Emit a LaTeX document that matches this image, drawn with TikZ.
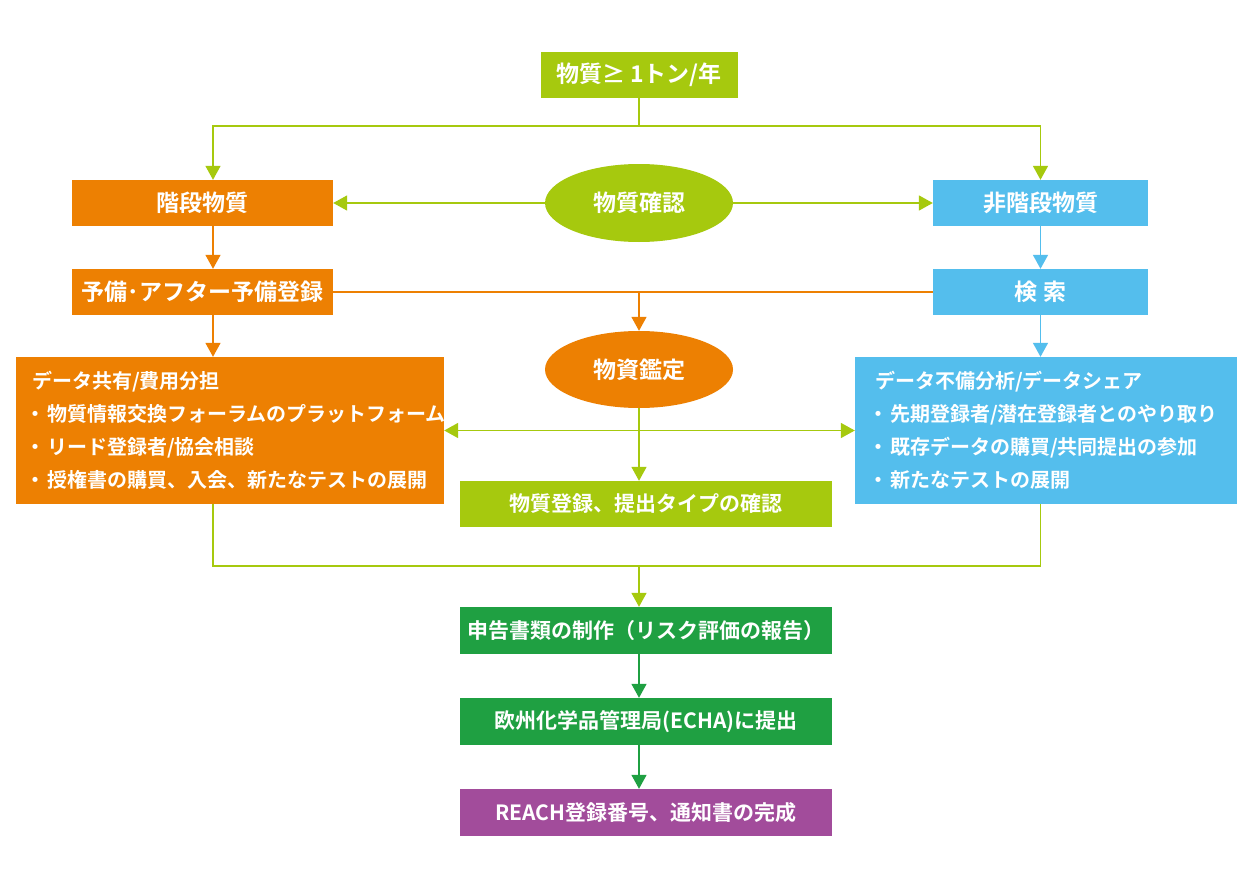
\documentclass[tikz,border=0pt]{standalone}
\usepackage{fontspec}
\newfontfamily\jp{Noto Sans CJK JP}[BoldFont={Noto Sans CJK JP Bold}]
\usetikzlibrary{arrows.meta,shapes.geometric}
\definecolor{lime}{RGB}{166,201,14}
\definecolor{orng}{RGB}{237,128,2}
\definecolor{sky}{RGB}{84,190,237}
\definecolor{dgreen}{RGB}{31,160,66}
\definecolor{purp}{RGB}{162,76,155}
\newcommand\bul{\makebox[15pt][l]{\hspace{-7pt}・}}
\begin{document}
\begin{tikzpicture}[x=1pt,y=-1pt,
  box/.style={rectangle, inner sep=0pt, text=white, font=\jp\bfseries\fontsize{23}{27}\selectfont},
  oval/.style={ellipse, inner sep=0pt, text=white, font=\jp\bfseries\fontsize{23}{27}\selectfont},
  listbox/.style={rectangle, inner ysep=0pt, text=white, align=left, font=\jp\bfseries\fontsize{20}{33}\selectfont},
  lowbox/.style={rectangle, inner sep=0pt, text=white, minimum width=372, minimum height=47, font=\jp\bfseries\fontsize{21}{25}\selectfont},
  conn/.style={line width=1.6pt, -{Triangle[width=15pt,length=14pt]}},
  plain/.style={line width=1.6pt},
  thin/.style={line width=1.3pt}
]
\useasboundingbox (0,0) rectangle (1255,888);
\fill[white] (0,0) rectangle (1255,888);
\coordinate (cL) at (213,0);
\coordinate (cR) at (1040.5,0);
\coordinate (cM) at (639,0);

\node[box, fill=lime, minimum width=197, minimum height=46] (top) at (639,75) {物質≥ 1トン/年};
\node[box, fill=orng, minimum width=261, minimum height=46] (kaidan) at (202.5,203) {階段物質};
\node[box, fill=sky, minimum width=215, minimum height=46] (hikaidan) at (1040.5,203) {非階段物質};
\node[oval, fill=lime, minimum width=188, minimum height=78] (kakunin) at (639,203) {物質確認};
\node[box, fill=orng, minimum width=261, minimum height=46] (yobi) at (202.5,292) {予備･アフター予備登録};
\node[box, fill=sky, minimum width=215, minimum height=46] (kensaku) at (1040.5,292) {検 索};
\node[oval, fill=orng, minimum width=188, minimum height=77] (kantei) at (639,369.5) {物資鑑定};
\node[listbox, fill=orng, minimum height=147, inner xsep=16pt, text width=396pt] (leftbox) at (230,430.5)
  {データ共有/費用分担\\ \bul 物質情報交換フォーラムのプラットフォーム\\ \bul リード登録者/協会相談\\ \bul 授権書の購買、入会、新たなテストの展開};
\node[listbox, fill=sky, minimum height=147, inner xsep=20pt, text width=342pt] (rightbox) at (1046,430.5)
  {データ不備分析/データシェア\\ \bul 先期登録者/潜在登録者とのやり取り\\ \bul 既存データの購買/共同提出の参加\\ \bul 新たなテストの展開};
\node[lowbox, fill=lime, minimum height=46] (touroku) at (646,504) {物質登録、提出タイプの確認};
\node[lowbox, fill=dgreen] (shinkoku) at (646,630.5) {申告書類の制作（リスク評価の報告）};
\node[lowbox, fill=dgreen] (ohshu) at (646,721.5) {欧州化学品管理局(ECHA)に提出};
\node[lowbox, fill=purp] (reach) at (646,812.5) {REACH登録番号、通知書の完成};

\coordinate (t1) at (639,126);
\coordinate (j1) at (639,292);
\coordinate (b1) at (639,566);

% top splits
\draw[lime, plain] (top.south) -- (t1);
\draw[lime, conn] (t1) -| (kaidan.north -| cL);
\draw[lime, conn] (t1) -| (hikaidan.north);
% substance confirmation
\draw[lime, conn] (kakunin.west) -- (kaidan.east);
\draw[lime, conn] (kakunin.east) -- (hikaidan.west);
% columns
\draw[orng, conn] (kaidan.south -| cL) -- (yobi.north -| cL);
\draw[sky, conn] (hikaidan.south) -- (kensaku.north);
\draw[orng, conn] (yobi.south -| cL) -- (leftbox.north -| cL);
\draw[sky, conn] (kensaku.south) -- (rightbox.north -| cR);
% orange cross line
\draw[orng, thin] (yobi.east) -- (kensaku.west);
\draw[orng, conn] (j1) -- (kantei.north);
% green middle
\draw[lime, plain, {Triangle[width=15pt,length=14pt]}-{Triangle[width=15pt,length=14pt]}] (leftbox.east) -- (rightbox.west);
\draw[lime, conn] (kantei.south) -- (touroku.north -| cM);
% bottom merge
\draw[lime, plain] (leftbox.south -| cL) |- (b1) -| (rightbox.south -| cR);
\draw[lime, conn] (b1) -- (shinkoku.north -| cM);
\draw[dgreen, conn] (shinkoku.south -| cM) -- (ohshu.north -| cM);
\draw[dgreen, conn] (ohshu.south -| cM) -- (reach.north -| cM);
\end{tikzpicture}
\end{document}
